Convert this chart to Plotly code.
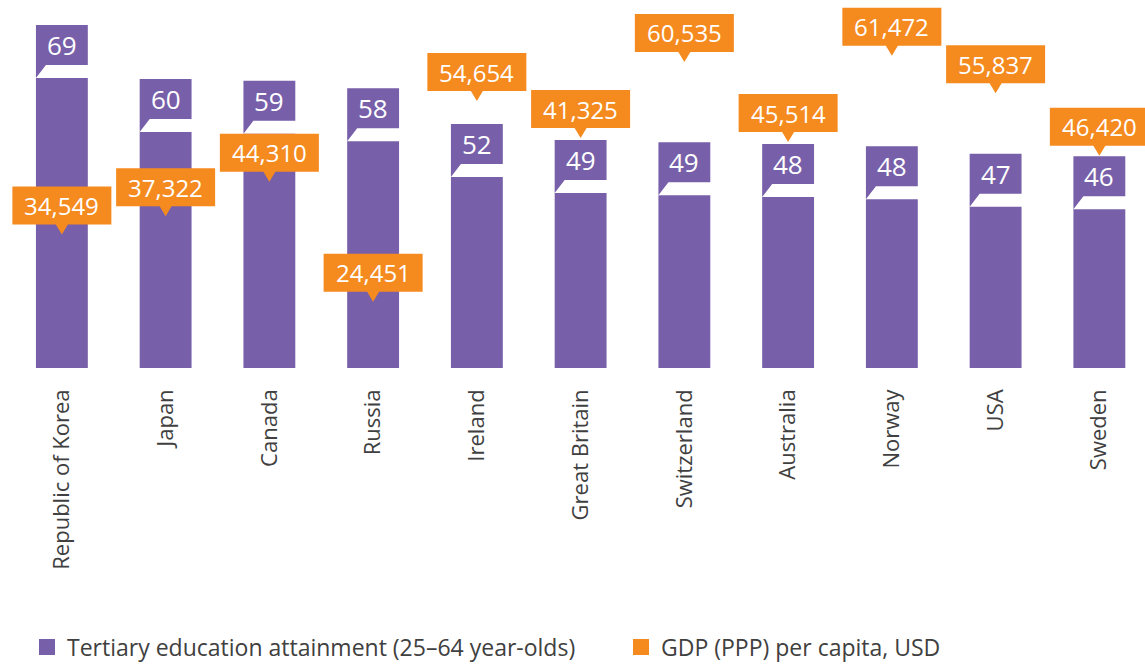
import plotly.graph_objects as go

# ---------------- data ----------------
countries = ["Republic of Korea", "Japan", "Canada", "Russia", "Ireland",
             "Great Britain", "Switzerland", "Australia", "Norway", "USA", "Sweden"]
tertiary = [69.0, 59.6, 59.3, 58.0, 51.8, 49.0, 48.6, 48.3, 47.9, 46.6, 46.2]
gdp = [34549, 37322, 44310, 24451, 54654, 41325, 60535, 45514, 61472, 55837, 46420]
series_names = ["Tertiary education attainment (25\u201364 year-olds)",
                "GDP (PPP) per capita, USD"]

# ---------------- style / layout ----------------
PURPLE = "#7760A9"
ORANGE = "#F58A1F"
TEXT = "#404040"
FONT = "Open Sans, Noto Sans, DejaVu Sans, sans-serif"

W, H = 1145, 665
ML, MR, MT, MB = 10, 0, 0, 297
plot_w = W - ML - MR
plot_h = H - MT - MB
x_range = [-0.5, 10.44]
y_range = [18.57, 82.57]
y2_range = [14477, 69857]
bar_w = 0.5

ppx = plot_w / (x_range[1] - x_range[0])


def ypx(v):
    return MT + plot_h * (y_range[1] - v) / (y_range[1] - y_range[0])


def y2px(v):
    return MT + plot_h * (y2_range[1] - v) / (y2_range[1] - y2_range[0])


# callout geometry (pixels)
P_GAP, P_BOX, P_TAIL = 13, 40, 10
O_W, O_H, O_TIP, O_TIP_HW = 99, 38, 10, 6
hw = bar_w / 2 * ppx

xs = list(range(len(countries)))

fig = go.Figure()
fig.add_trace(go.Bar(
    x=xs, y=tertiary, width=bar_w, marker=dict(color=PURPLE, line=dict(width=0)),
    name=series_names[0], showlegend=False, hoverinfo="x+y"))
fig.add_trace(go.Scatter(
    x=xs, y=gdp, yaxis="y2", mode="markers", marker=dict(opacity=0),
    name=series_names[1], showlegend=False))
# legend entries
fig.add_trace(go.Scatter(x=[None], y=[None], mode="markers", name=series_names[0],
                         legendwidth=549,
                         marker=dict(symbol="square", size=16, color=PURPLE)))
fig.add_trace(go.Scatter(x=[None], y=[None], mode="markers", name=series_names[1],
                         marker=dict(symbol="square", size=16, color=ORANGE)))

shapes = []
annotations = []
for i, (t, g) in enumerate(zip(tertiary, gdp)):
    # purple label with tail at bottom-left
    path = (f"M{-hw:.2f},0 V{P_GAP + P_BOX} H{hw:.2f} V{P_GAP} "
            f"H{-hw + P_TAIL:.2f} Z")
    shapes.append(dict(type="path", xref="x", yref="y", xsizemode="pixel",
                       ysizemode="pixel", xanchor=i, yanchor=t, path=path,
                       fillcolor=PURPLE, line=dict(width=0), layer="above"))
    annotations.append(dict(x=i, y=t, xref="x", yref="y", text=f"{t:.0f}",
                            showarrow=False, yshift=P_GAP + P_BOX / 2,
                            xanchor="center", yanchor="middle",
                            font=dict(family=FONT, size=26, color="white")))

    # orange callout: avoid overlapping the purple label
    bar_top = ypx(t)
    p_top = bar_top - P_GAP - P_BOX
    tip = y2px(g)
    box_top, box_bot = tip - O_TIP - O_H, tip - O_TIP
    if box_top < bar_top and box_bot > p_top:
        if (box_top + box_bot) / 2 < (p_top + bar_top) / 2:
            new_tip = p_top - 2
        else:
            new_tip = bar_top + O_H + O_TIP
    else:
        new_tip = tip
    s = tip - new_tip  # shift upward in px
    path = (f"M0,{s:.2f} L{O_TIP_HW},{s + O_TIP:.2f} H{O_W / 2} V{s + O_TIP + O_H:.2f} "
            f"H{-O_W / 2} V{s + O_TIP:.2f} H{-O_TIP_HW} Z")
    shapes.append(dict(type="path", xref="x", yref="y2", xsizemode="pixel",
                       ysizemode="pixel", xanchor=i, yanchor=g, path=path,
                       fillcolor=ORANGE, line=dict(width=0), layer="above"))
    annotations.append(dict(x=i, y=g, xref="x", yref="y2", text=f"{g:,}",
                            showarrow=False, yshift=s + O_TIP + O_H / 2,
                            xanchor="center", yanchor="middle",
                            font=dict(family=FONT, size=24, color="white")))

fig.update_layout(
    width=W, height=H,
    margin=dict(l=ML, r=MR, t=MT, b=MB, pad=0, autoexpand=False),
    paper_bgcolor="white", plot_bgcolor="white",
    font=dict(family=FONT, color=TEXT, size=22),
    xaxis=dict(range=x_range, tickmode="array", tickvals=xs, ticktext=countries,
               tickangle=-90, showgrid=False, zeroline=False, showline=False,
               ticks="", ticklabelstandoff=16, automargin=False,
               tickfont=dict(family=FONT, size=22, color=TEXT)),
    yaxis=dict(range=y_range, visible=False, showgrid=False, zeroline=False,
               automargin=False),
    yaxis2=dict(range=y2_range, overlaying="y", visible=False, showgrid=False,
                zeroline=False, automargin=False),
    shapes=shapes,
    annotations=annotations,
    showlegend=True,
    legend=dict(orientation="h", x=(27 - ML) / plot_w, xanchor="left",
                y=(plot_h - (647 - MT)) / plot_h, yanchor="middle",
                font=dict(family=FONT, size=23, color=TEXT),
                bgcolor="rgba(0,0,0,0)"),
)

fig.write_html("out.html", config={"displayModeBar": False},
               post_script="document.body.style.margin='0';"
                           "document.body.style.overflow='hidden';")
